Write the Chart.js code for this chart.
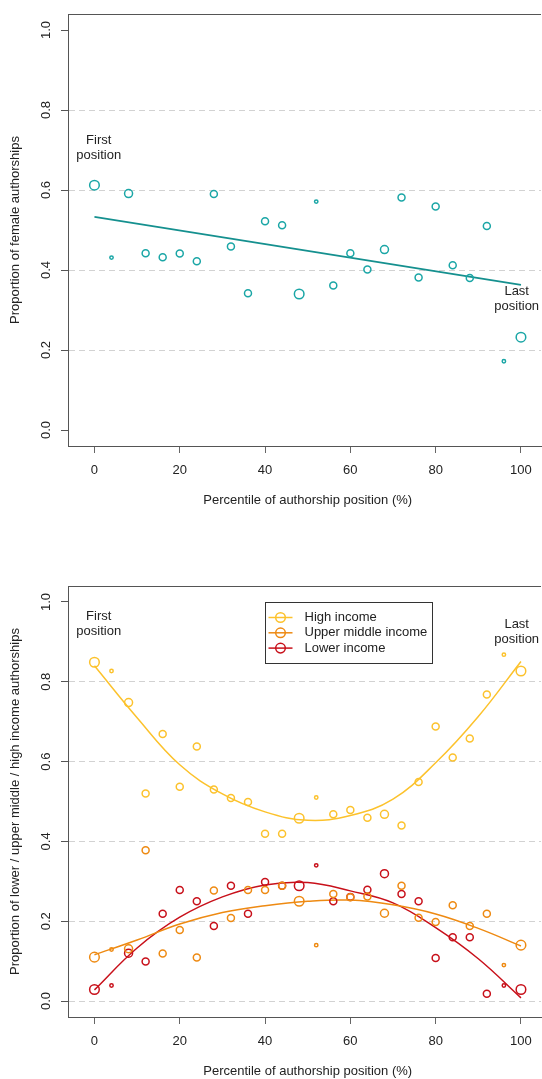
<!DOCTYPE html>
<html>
<head>
<meta charset="utf-8">
<script src="https://cdn.jsdelivr.net/npm/chart.js@4.4.1/dist/chart.umd.min.js"></script>
<style>
html, body { margin: 0; padding: 0; background: #fff; }
canvas { display: block; }
</style>
</head>
<body>
<canvas id="femaleChart" width="542" height="540"></canvas>
<canvas id="incomeChart" width="542" height="539"></canvas>
<script>
// authorship position percentiles (bins)
var positions = [0, 4, 8, 12, 16, 20, 24, 28, 32, 36, 40, 44, 48, 52, 56, 60, 64, 68, 72, 76, 80, 84, 88, 92, 96, 100];

// top panel
var femaleShare = [0.612, 0.431, 0.591, 0.442, 0.432, 0.441, 0.422, 0.590, 0.459, 0.342, 0.522, 0.512, 0.340,
                   0.571, 0.361, 0.442, 0.401, 0.451, 0.581, 0.381, 0.559, 0.412, 0.380, 0.510, 0.172, 0.232];
var femaleFitX = [0, 100];
var femaleFit = [0.533, 0.363];

// bottom panel
var highIncome = [0.849, 0.827, 0.748, 0.520, 0.669, 0.537, 0.638, 0.530, 0.509, 0.499, 0.419, 0.419, 0.458,
                  0.510, 0.468, 0.479, 0.459, 0.468, 0.440, 0.549, 0.688, 0.610, 0.658, 0.768, 0.868, 0.827];
var upperMiddleIncome = [0.110, 0.129, 0.131, 0.378, 0.119, 0.178, 0.109, 0.277, 0.208, 0.278, 0.278, 0.289, 0.250,
                         0.140, 0.268, 0.260, 0.262, 0.220, 0.289, 0.209, 0.198, 0.240, 0.188, 0.219, 0.090, 0.140];
var lowerIncome = [0.029, 0.039, 0.120, 0.099, 0.219, 0.278, 0.250, 0.188, 0.289, 0.219, 0.298, 0.289, 0.289,
                   0.340, 0.250, 0.261, 0.279, 0.319, 0.268, 0.250, 0.108, 0.160, 0.160, 0.018, 0.039, 0.029];
var fitX = [0, 10, 20, 30, 40, 50, 60, 70, 80, 90, 100];
var highFit = [0.840, 0.710, 0.592, 0.519, 0.474, 0.453, 0.465, 0.506, 0.597, 0.713, 0.851];
var upperMiddleFit = [0.116, 0.153, 0.193, 0.222, 0.239, 0.250, 0.253, 0.241, 0.218, 0.182, 0.138];
var lowerFit = [0.028, 0.133, 0.210, 0.261, 0.291, 0.297, 0.276, 0.246, 0.184, 0.106, 0.008];

var xTicks = [0, 20, 40, 60, 80, 100];
var yTicks = [0, 0.2, 0.4, 0.6, 0.8, 1.0];
var yTickLabels = ['0.0', '0.2', '0.4', '0.6', '0.8', '1.0'];

var FONT = '"Liberation Sans", Arial, sans-serif';
var TEXT = '#222';
Chart.defaults.font.family = FONT;
Chart.defaults.font.size = 13;
Chart.defaults.color = TEXT;

var teal = '#1AA6A6', tealLine = '#15908F';
var yellow = '#FCC22C', orange = '#EE8A12', red = '#C8101A';

function pts(xs, ys) {
    return xs.map(function (x, i) { return {x: x, y: ys[i]}; });
}

// point size follows how many papers fall into a bin
function pointSize(ctx) {
    var x = ctx.raw ? ctx.raw.x : 0;
    if (x === 0 || x === 48 || x === 100) return 4.8;
    if (x === 4 || x === 52 || x === 96) return 1.7;
    if (x === 8 || x === 68) return 4.0;
    return 3.5;
}

function pointSet(label, values, color) {
    return {
        label: label,
        data: pts(positions, values),
        showLine: false,
        pointStyle: 'circle',
        pointRadius: pointSize,
        pointHoverRadius: pointSize,
        pointBorderWidth: 1.5,
        pointBorderColor: color,
        pointBackgroundColor: 'rgba(0,0,0,0)',
        borderColor: color
    };
}

function fitLine(xs, ys, color, width) {
    return {
        label: '_fit',
        data: pts(xs, ys),
        showLine: true,
        tension: 0.4,
        pointRadius: 0,
        borderWidth: width,
        borderColor: color,
        fill: false
    };
}

/* R style frame, rotated y labels, titles, notes and legend */
var rPlot = {
    id: 'rPlot',
    afterDraw: function (chart, args, opts) {
        var ctx = chart.ctx;
        var area = chart.chartArea;
        var xs = chart.scales.x, ys = chart.scales.y;
        ctx.save();
        // top side of the box
        ctx.strokeStyle = '#555';
        ctx.lineWidth = 1;
        ctx.beginPath();
        ctx.moveTo(area.left, Math.round(area.top) + 0.5);
        ctx.lineTo(area.right, Math.round(area.top) + 0.5);
        ctx.stroke();

        ctx.fillStyle = TEXT;
        ctx.font = '13px ' + FONT;
        ctx.textAlign = 'center';
        ctx.textBaseline = 'middle';

        // y tick labels, parallel to the axis
        yTicks.forEach(function (v, i) {
            ctx.save();
            ctx.translate(46, ys.getPixelForValue(v));
            ctx.rotate(-Math.PI / 2);
            ctx.fillText(yTickLabels[i], 0, 0);
            ctx.restore();
        });

        // x tick labels
        xTicks.forEach(function (v) {
            ctx.fillText(String(v), xs.getPixelForValue(v), area.bottom + 24);
        });

        // axis titles
        ctx.save();
        ctx.translate(15, (area.top + area.bottom) / 2);
        ctx.rotate(-Math.PI / 2);
        ctx.fillText(opts.yTitle, 0, 0);
        ctx.restore();
        ctx.fillText(opts.xTitle, xs.getPixelForValue(50), area.bottom + 54);

        // First / Last position notes
        opts.notes.forEach(function (n) {
            var cx = xs.getPixelForValue(n.x), cy = ys.getPixelForValue(n.y);
            ctx.fillText(n.lines[0], cx, cy - 7.5);
            ctx.fillText(n.lines[1], cx, cy + 7.5);
        });

        // legend
        if (opts.legend) {
            var lx = Math.round(xs.getPixelForValue(opts.legend.x)) + 0.5;
            var ly = Math.round(ys.getPixelForValue(opts.legend.y)) + 0.5;
            var items = chart.data.datasets.filter(function (d) { return d.label !== '_fit'; });
            ctx.strokeStyle = '#333';
            ctx.lineWidth = 1;
            ctx.strokeRect(lx, ly, 167, 61);
            ctx.textAlign = 'left';
            items.forEach(function (d, i) {
                var y = ly + 15 + i * 15.3;
                ctx.strokeStyle = d.borderColor;
                ctx.lineWidth = 1.5;
                ctx.beginPath();
                ctx.moveTo(lx + 3, y);
                ctx.lineTo(lx + 27, y);
                ctx.stroke();
                ctx.beginPath();
                ctx.arc(lx + 15, y, 4.8, 0, Math.PI * 2);
                ctx.stroke();
                ctx.fillStyle = TEXT;
                ctx.fillText(d.label, lx + 39, y);
            });
        }
        ctx.restore();
    }
};

function scales(yWidth, xHeight, hideGrid) {
    return {
        x: {
            type: 'linear',
            min: -6.2,
            max: 104.7,
            afterBuildTicks: function (s) { s.ticks = xTicks.map(function (v) { return {value: v}; }); },
            afterFit: function (s) { s.height = xHeight; },
            ticks: { display: false },
            grid: { drawOnChartArea: false, drawTicks: true, tickLength: 7, tickColor: '#666', tickWidth: 1 },
            border: { color: '#555', width: 1 }
        },
        y: {
            type: 'linear',
            min: -0.04,
            max: 1.04,
            afterBuildTicks: function (s) { s.ticks = yTicks.map(function (v) { return {value: v}; }); },
            afterFit: function (s) { s.width = yWidth; },
            ticks: { display: false },
            grid: {
                color: function (c) {
                    var v = c.tick ? c.tick.value : 0;
                    return hideGrid.indexOf(v) >= 0 ? 'rgba(0,0,0,0)' : '#d2d2d2';
                },
                lineWidth: 1,
                drawTicks: true,
                tickLength: 7,
                tickColor: '#555',
                tickWidth: 1
            },
            border: { color: '#555', width: 1, dash: [6, 4] }
        }
    };
}

var femaleChart = new Chart(document.getElementById('femaleChart'), {
    type: 'scatter',
    data: {
        datasets: [
            pointSet('Female', femaleShare, teal),
            fitLine(femaleFitX, femaleFit, tealLine, 1.8)
        ]
    },
    options: {
        responsive: false,
        animation: false,
        devicePixelRatio: 1,
        layout: { autoPadding: false, padding: { top: 14, right: 1, left: 0, bottom: 0 } },
        scales: scales(68, 94, [0, 1]),
        plugins: {
            legend: { display: false },
            tooltip: { enabled: false },
            rPlot: {
                yTitle: 'Proportion of female authorships',
                xTitle: 'Percentile of authorship position (%)',
                notes: [
                    { x: 1, y: 0.705, lines: ['First', 'position'] },
                    { x: 99, y: 0.327, lines: ['Last', 'position'] }
                ]
            }
        }
    },
    plugins: [rPlot]
});

var incomeChart = new Chart(document.getElementById('incomeChart'), {
    type: 'scatter',
    data: {
        datasets: [
            pointSet('High income', highIncome, yellow),
            pointSet('Upper middle income', upperMiddleIncome, orange),
            pointSet('Lower income', lowerIncome, red),
            fitLine(fitX, highFit, yellow, 1.5),
            fitLine(fitX, upperMiddleFit, orange, 1.5),
            fitLine(fitX, lowerFit, red, 1.5)
        ]
    },
    options: {
        responsive: false,
        animation: false,
        devicePixelRatio: 1,
        layout: { autoPadding: false, padding: { top: 46, right: 1, left: 0, bottom: 0 } },
        scales: scales(68, 62, [1]),
        plugins: {
            legend: { display: false },
            tooltip: { enabled: false },
            rPlot: {
                yTitle: 'Proportion of lower / upper middle / high income authorships',
                xTitle: 'Percentile of authorship position (%)',
                notes: [
                    { x: 1, y: 0.946, lines: ['First', 'position'] },
                    { x: 99, y: 0.926, lines: ['Last', 'position'] }
                ],
                legend: { x: 40, y: 1.0 }
            }
        }
    },
    plugins: [rPlot]
});
</script>
</body>
</html>
